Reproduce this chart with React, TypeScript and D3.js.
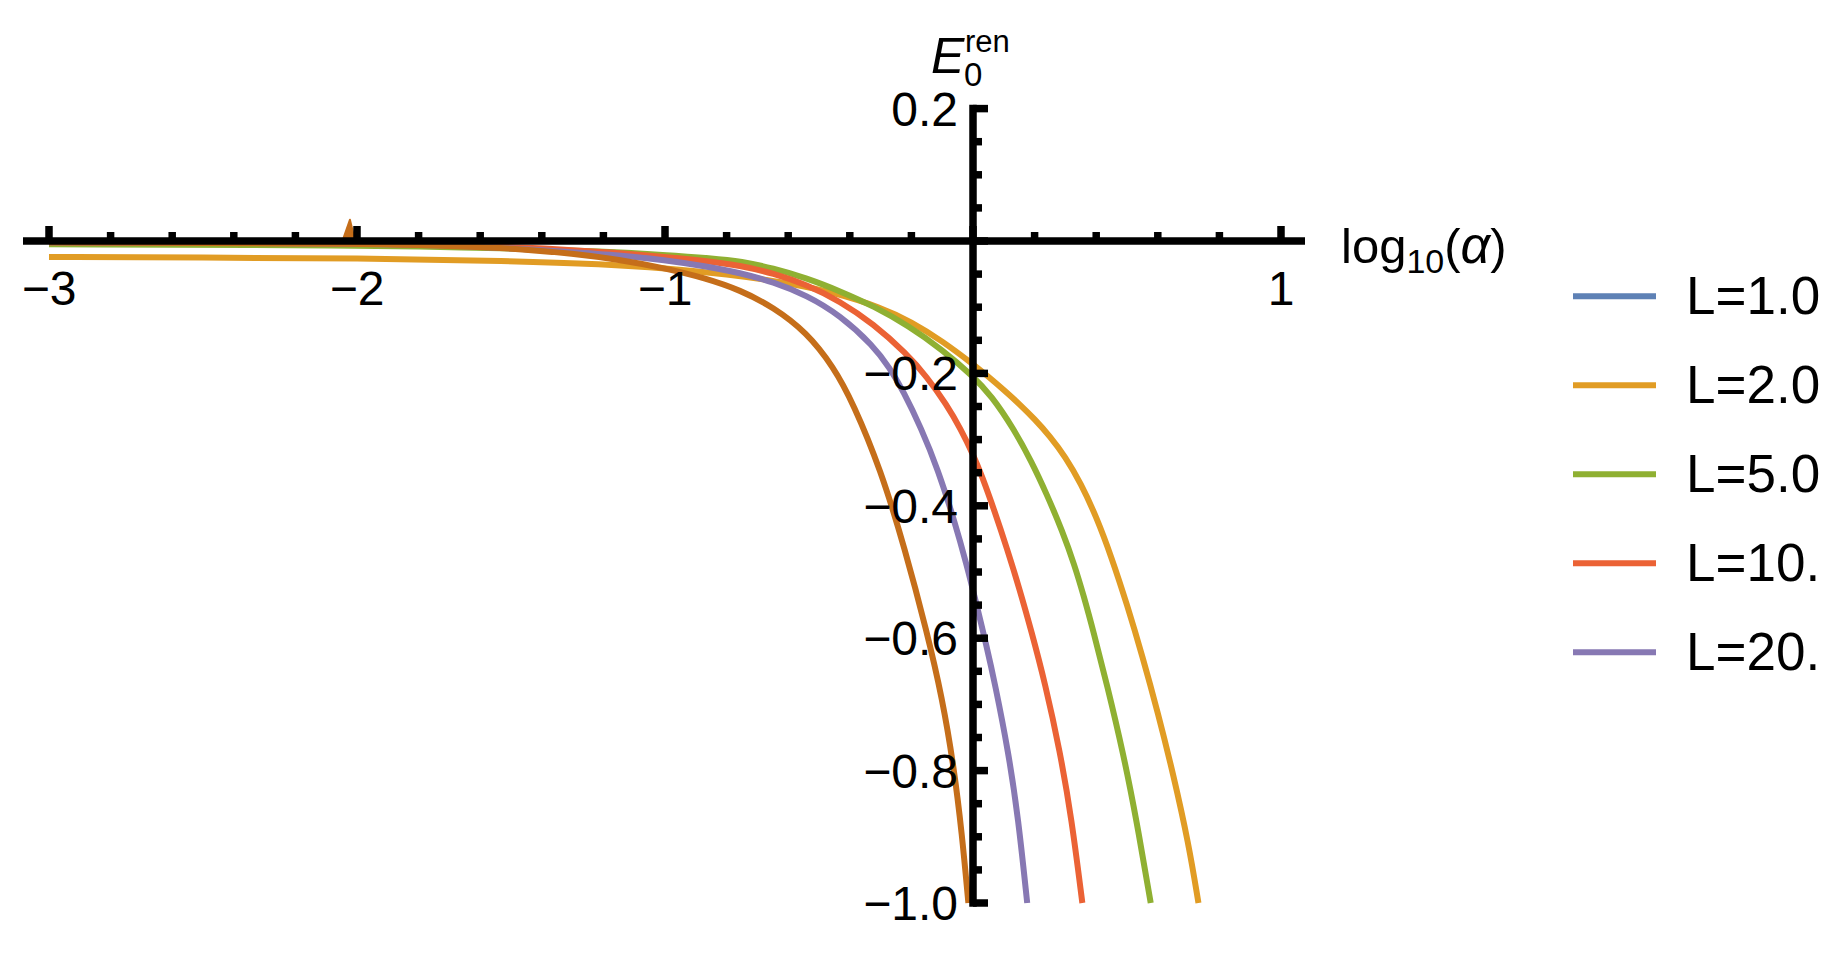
import React from 'react';
import * as d3 from 'd3';

// legend entries (the 6th curve is drawn but not in the legend)
const legendLabels = ['L=1.0', 'L=2.0', 'L=5.0', 'L=10.', 'L=20.'];
const colors = ['#5E81B5', '#E19C24', '#8FB032', '#EB6235', '#8778B3', '#C56E1A'];

type Pt = [number, number];

// E0^ren vs log10(alpha)
const curveL1: Pt[] = [[-3, 0], [1, 0]];
const curveL2: Pt[] = [
  [-3, -0.024], [-2.5, -0.025], [-2, -0.026], [-1.5, -0.03], [-1.2, -0.035], [-1.0, -0.041],
  [-0.8, -0.05], [-0.6, -0.063], [-0.45, -0.078], [-0.3, -0.1], [-0.2, -0.122], [-0.1, -0.151],
  [0, -0.186], [0.05, -0.205], [0.1, -0.225], [0.15, -0.246], [0.2, -0.269], [0.25, -0.295],
  [0.3, -0.326], [0.35, -0.366], [0.4, -0.416], [0.45, -0.478], [0.5, -0.549], [0.55, -0.627],
  [0.6, -0.712], [0.65, -0.805], [0.7, -0.91], [0.732, -1.0],
];
const curveL5: Pt[] = [
  [-3, -0.005], [-2, -0.006], [-1.5, -0.011], [-1.2, -0.016], [-1.0, -0.021], [-0.85, -0.026],
  [-0.75, -0.031], [-0.65, -0.041], [-0.54, -0.056], [-0.43, -0.076], [-0.32, -0.099], [-0.21, -0.128],
  [-0.1, -0.164], [0, -0.204], [0.06, -0.234], [0.13, -0.282], [0.19, -0.333], [0.24, -0.383],
  [0.29, -0.438], [0.33, -0.49], [0.36, -0.537], [0.39, -0.588], [0.435, -0.67], [0.488, -0.774],
  [0.531, -0.875], [0.577, -1.0],
];
const curveL10: Pt[] = [
  [-3, -0.002], [-2, -0.003], [-1.6, -0.007], [-1.4, -0.011], [-1.15, -0.018], [-1.0, -0.024],
  [-0.87, -0.03], [-0.756, -0.037], [-0.648, -0.049], [-0.54, -0.066], [-0.432, -0.091], [-0.324, -0.125],
  [-0.216, -0.17], [-0.15, -0.205], [-0.086, -0.247], [-0.04, -0.284], [0, -0.322], [0.03, -0.356],
  [0.07, -0.408], [0.11, -0.464], [0.15, -0.524], [0.19, -0.59], [0.234, -0.668], [0.282, -0.77],
  [0.32, -0.872], [0.355, -1.0],
];
const curveL20: Pt[] = [
  [-3, -0.002], [-2, -0.003], [-1.6, -0.008], [-1.47, -0.012], [-1.15, -0.021], [-1.0, -0.029],
  [-0.87, -0.038], [-0.756, -0.048], [-0.648, -0.062], [-0.54, -0.082], [-0.432, -0.112], [-0.324, -0.158],
  [-0.27, -0.192], [-0.227, -0.226], [-0.168, -0.283], [-0.114, -0.345], [-0.06, -0.423], [-0.02, -0.49],
  [0.01, -0.546], [0.044, -0.612], [0.071, -0.668], [0.115, -0.772], [0.147, -0.872], [0.176, -1.0],
];
const curveExtra: Pt[] = [
  [-3, -0.002], [-2.5, -0.003], [-2, -0.004], [-1.8, -0.006], [-1.6, -0.009], [-1.47, -0.012],
  [-1.3, -0.019], [-1.15, -0.028], [-1.0, -0.041], [-0.87, -0.056], [-0.756, -0.074], [-0.648, -0.1],
  [-0.54, -0.138], [-0.453, -0.19], [-0.389, -0.245], [-0.3, -0.345], [-0.221, -0.465], [-0.15, -0.59],
  [-0.1, -0.69], [-0.062, -0.795], [-0.036, -0.895], [-0.015, -1.0],
];
// the narrow glitch of the 6th curve just left of -2
const extraSpike: Pt[] = [[-2.05, -0.004], [-2.023, 0.032], [-2.004, -0.004]];

const curves = [curveL1, curveL2, curveL5, curveL10, curveL20, curveExtra];

const xMajor = [-3, -2, -1, 0, 1];
const xLabels = ['−3', '−2', '−1', '', '1'];
const yMajor = [0.2, 0, -0.2, -0.4, -0.6, -0.8, -1.0];
const yLabels = ['0.2', '', '−0.2', '−0.4', '−0.6', '−0.8', '−1.0'];

const W = 1843;
const H = 954;
const FONT = '"Liberation Sans", Arial, Helvetica, sans-serif';

export default function App() {
  const x = d3.scaleLinear().domain([-3, 1]).range([49, 1281]);
  const y = d3.scaleLinear().domain([-1, 0.2]).range([903, 108.6]);

  const line = d3
    .line<Pt>()
    .x((d) => x(d[0]))
    .y((d) => y(d[1]))
    .curve(d3.curveBasis);
  const straight = d3
    .line<Pt>()
    .x((d) => x(d[0]))
    .y((d) => y(d[1]));

  const isMajor = (v: number, majors: number[]) => majors.some((m) => Math.abs(m - v) < 1e-6);
  const xMinor = d3.range(-3, 1.0001, 0.2).filter((v) => !isMajor(v, xMajor));
  const yMinor = d3.range(-1, 0.2001, 0.05).filter((v) => !isMajor(v, yMajor));

  const x0 = x(0);
  const y0 = y(0);
  const axisW = 7.5;

  return (
    <svg
      width={W}
      height={H}
      style={{ position: 'absolute', left: 0, top: 0, background: '#fff' }}
      fontFamily={FONT}
    >
      <rect width={W} height={H} fill="#fff" />

      {/* curves */}
      <g fill="none" strokeWidth={6}>
        {curves.map((c, i) => (
          <path key={i} d={line(c) ?? ''} stroke={colors[i]} />
        ))}
      </g>
      <path
        d={(straight(extraSpike) ?? '') + 'Z'}
        fill={colors[5]}
        stroke={colors[5]}
        strokeWidth={2}
        strokeLinejoin="round"
      />

      {/* axes, drawn over the curves */}
      <g stroke="#000" strokeWidth={axisW}>
        <line x1={23} x2={1305} y1={y0} y2={y0} />
        <line x1={x0} x2={x0} y1={y(0.2) - axisW / 2} y2={y(-1) + axisW / 2} />
        {xMajor.map((v) => (
          <line key={'xM' + v} x1={x(v)} x2={x(v)} y1={y0} y2={y0 - 15} />
        ))}
        {xMinor.map((v) => (
          <line key={'xm' + v} x1={x(v)} x2={x(v)} y1={y0} y2={y0 - 9} />
        ))}
        {yMajor.map((v) => (
          <line key={'yM' + v} x1={x0} x2={x0 + 15} y1={y(v)} y2={y(v)} />
        ))}
        {yMinor.map((v) => (
          <line key={'ym' + v} x1={x0} x2={x0 + 9} y1={y(v)} y2={y(v)} />
        ))}
      </g>

      {/* tick labels */}
      <g fontSize={48} fill="#000">
        {xMajor.map((v, i) => (
          <text key={'xl' + v} x={x(v)} y={305} textAnchor="middle">
            {xLabels[i]}
          </text>
        ))}
        {yMajor.map((v, i) => (
          <text key={'yl' + v} x={958} y={y(v) + 17} textAnchor="end">
            {yLabels[i]}
          </text>
        ))}
      </g>

      {/* axis labels */}
      <text x={1341} y={263} fontSize={49}>
        log
        <tspan fontSize={34} dy={10}>10</tspan>
        <tspan dy={-10}>(</tspan>
        <tspan fontStyle="italic" fontSize={52}>α</tspan>)
      </text>
      <text x={931} y={72.7} fontSize={50}>
        <tspan fontStyle="italic">E</tspan>
        <tspan x={964} y={86} fontSize={33}>0</tspan>
        <tspan x={965} y={52} fontSize={31}>ren</tspan>
      </text>

      {/* legend */}
      {legendLabels.map((lab, i) => {
        const ly = 296.3 + i * 89;
        return (
          <g key={lab}>
            <line x1={1573} x2={1656} y1={ly} y2={ly} stroke={colors[i]} strokeWidth={6} />
            <text x={1686} y={ly + 18} fontSize={53}>
              {lab}
            </text>
          </g>
        );
      })}
    </svg>
  );
}
